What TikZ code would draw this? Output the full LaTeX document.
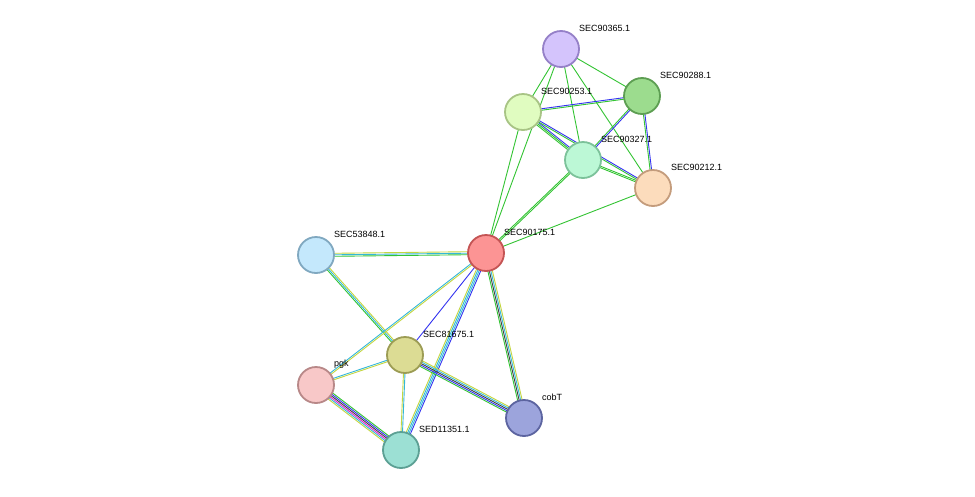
\documentclass[tikz,border=0pt]{standalone}
\usepackage{fontspec}
\setmainfont{Liberation Sans}
\usetikzlibrary{calc}
\definecolor{eg}{HTML}{33C433}
\definecolor{eb}{HTML}{3333F0}
\definecolor{ey}{HTML}{C4D640}
\definecolor{ec}{HTML}{33B8D8}
\definecolor{ek}{HTML}{404040}
\definecolor{em}{HTML}{E020D0}
\tikzset{
  prot/.style={circle,minimum size=36pt,inner sep=0pt,line width=1.8pt},
  lab/.style={anchor=west,font=\fontsize{9}{10}\selectfont,inner sep=0pt},
}
\newcommand{\edge}[4]{%
  \foreach \cc [count=\ii] in {#4}{%
    \pgfmathsetmacro{\oo}{(\ii-(#3+1)/2)*1.5}%
    \draw[\cc,line width=0.9pt] ($(#1)!\oo pt!90:(#2)$) -- ($(#2)!\oo pt!-90:(#1)$);
  }}
\begin{document}
\begin{tikzpicture}[x=1pt,y=-1pt]
\useasboundingbox[fill=white] (0,0) rectangle (975,496);
\coordinate (a365) at (561,49);
\coordinate (a288) at (642,96);
\coordinate (a253) at (523,112);
\coordinate (a327) at (583,160);
\coordinate (a212) at (653,188);
\coordinate (a175) at (486,253);
\coordinate (a848) at (316,255);
\coordinate (a675) at (405,355);
\coordinate (apgk) at (316,385);
\coordinate (acob) at (524,418);
\coordinate (a351) at (401,450);
\edge{a365}{a253}{1}{eg}
\edge{a365}{a327}{1}{eg}
\edge{a365}{a288}{1}{eg}
\edge{a365}{a212}{1}{eg}
\edge{a365}{a175}{1}{eg}
\edge{a253}{a288}{2}{eg,eb}
\edge{a253}{a327}{3}{eg,eg,eb}
\edge{a253}{a212}{2}{eg,eb}
\edge{a253}{a175}{1}{eg}
\edge{a288}{a327}{2}{eg,eb}
\edge{a288}{a212}{2}{eg,eb}
\edge{a327}{a212}{2}{eg,eg}
\edge{a327}{a175}{2}{eg,eg}
\edge{a212}{a175}{1}{eg}
\edge{a848}{a175}{3}{eg,ec,ey}
\edge{a848}{a675}{3}{eg,ec,ey}
\edge{a175}{apgk}{2}{ec,ey}
\edge{a175}{a675}{1}{eb}
\edge{a175}{a351}{4}{ey,ec,ec,eb}
\edge{a175}{acob}{4}{eg,ek,ec,ey}
\edge{a675}{apgk}{2}{ec,ey}
\edge{a675}{a351}{2}{ey,ec}
\edge{a675}{acob}{5}{eg,eb,ek,ec,ey}
\edge{apgk}{a351}{6}{ey,ec,em,ek,eb,eg}
\node[prot,fill={rgb,255:red,212;green,196;blue,252},draw={rgb,255:red,149;green,128;blue,200}] (n365) at (a365) {};
\node[prot,fill={rgb,255:red,156;green,220;blue,142},draw={rgb,255:red,93;green,158;blue,82}] (n288) at (a288) {};
\node[prot,fill={rgb,255:red,224;green,252;blue,192},draw={rgb,255:red,168;green,196;blue,133}] (n253) at (a253) {};
\node[prot,fill={rgb,255:red,188;green,248;blue,214},draw={rgb,255:red,124;green,194;blue,154}] (n327) at (a327) {};
\node[prot,fill={rgb,255:red,252;green,220;blue,188},draw={rgb,255:red,196;green,156;blue,124}] (n212) at (a212) {};
\node[prot,fill={rgb,255:red,252;green,148;blue,148},draw={rgb,255:red,196;green,84;blue,84}] (n175) at (a175) {};
\node[prot,fill={rgb,255:red,196;green,232;blue,252},draw={rgb,255:red,128;green,168;blue,192}] (n848) at (a848) {};
\node[prot,fill={rgb,255:red,220;green,220;blue,148},draw={rgb,255:red,156;green,156;blue,84}] (n675) at (a675) {};
\node[prot,fill={rgb,255:red,248;green,200;blue,200},draw={rgb,255:red,184;green,136;blue,136}] (npgk) at (apgk) {};
\node[prot,fill={rgb,255:red,156;green,164;blue,220},draw={rgb,255:red,92;green,100;blue,160}] (ncob) at (acob) {};
\node[prot,fill={rgb,255:red,156;green,224;blue,212},draw={rgb,255:red,92;green,160;blue,148}] (n351) at (a351) {};
\node[lab] (l365) at (579,28) {SEC90365.1};
\node[lab] (l288) at (660,75) {SEC90288.1};
\node[lab] (l253) at (541,91) {SEC90253.1};
\node[lab] (l327) at (601,139) {SEC90327.1};
\node[lab] (l212) at (671,167) {SEC90212.1};
\node[lab] (l175) at (504,232) {SEC90175.1};
\node[lab] (l848) at (334,234) {SEC53848.1};
\node[lab] (l675) at (423,334) {SEC81675.1};
\node[lab] (lpgk) at (334,364) {pgk};
\node[lab] (lcob) at (542,397) {cobT};
\node[lab] (l351) at (419,429) {SED11351.1};
\end{tikzpicture}
\end{document}
